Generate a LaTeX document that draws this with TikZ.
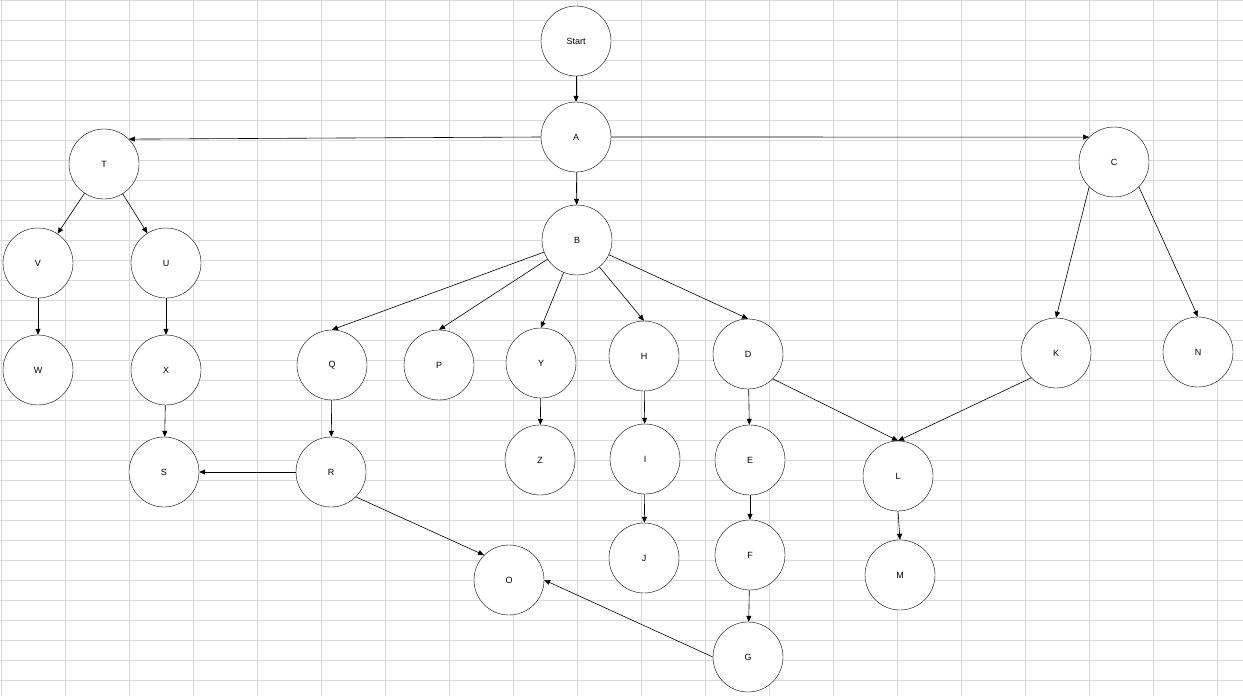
\documentclass[tikz,border=0pt]{standalone}
\usepackage{fontspec}
\setmainfont{Liberation Sans}
\usetikzlibrary{arrows.meta}
\begin{document}
\begin{tikzpicture}[x=1pt,y=-1pt,
  nd/.style={circle,draw,fill=white,minimum size=70pt,inner sep=0pt,font=\fontsize{9}{10}\selectfont},
  ar/.style={-{Triangle[length=6pt,width=5pt]},line width=0.6pt}]
\useasboundingbox (0,0) rectangle (1243,696);
\fill[white] (0,0) rectangle (1243,696);
\foreach \x in {1,65,...,1243} \draw[gray!30,line width=0.7pt] (\x,0) -- (\x,696);
\foreach \y in {0,20,...,696} \draw[gray!30,line width=0.7pt] (0,\y) -- (1243,\y);
\foreach \n/\x/\y in {Start/576/41,A/576/137,T/104/164,C/1114/162,B/577/240,V/38/263,U/166/263,W/38/370,X/166/370,S/164/472,Q/332/365,P/439/365,Y/541/363,H/644/356,D/748/354,K/1056/353,N/1198/352,R/331/472,Z/540/460,I/645/459,E/750/460,L/898/476,J/644/558,F/750/555,M/900/575,O/509/580,G/748/657}
  \node[nd] (\n) at (\x,\y) {\n};
\foreach \a/\b in {Start/A,A/B,T/V,T/U,V/W,U/X,X/S,Y/Z,H/I,I/J,D/E,E/F,F/G,Q/R,R/S}
  \draw[ar] (\a) -- (\b);
\draw[ar] (A.west) -- (T.north east);
\draw[ar] (A.east) -- (C.north west);
\draw[ar] (B) -- (Q.north);
\draw[ar] (B) -- (P.north);
\draw[ar] (B) -- (Y.north);
\draw[ar] (B) -- (H.north);
\draw[ar] (B) -- (D.north);
\draw[ar] (C.south west) -- (K.north);
\draw[ar] (C.south east) -- (N.north);
\draw[ar] (D.south east) -- (L.north);
\draw[ar] (K.south west) -- (L.north);
\draw[ar] (L.south) -- (M.north);
\draw[ar] (R.south east) -- (O.north west);
\draw[ar] (G.west) -- (O.east);
\end{tikzpicture}
\end{document}
